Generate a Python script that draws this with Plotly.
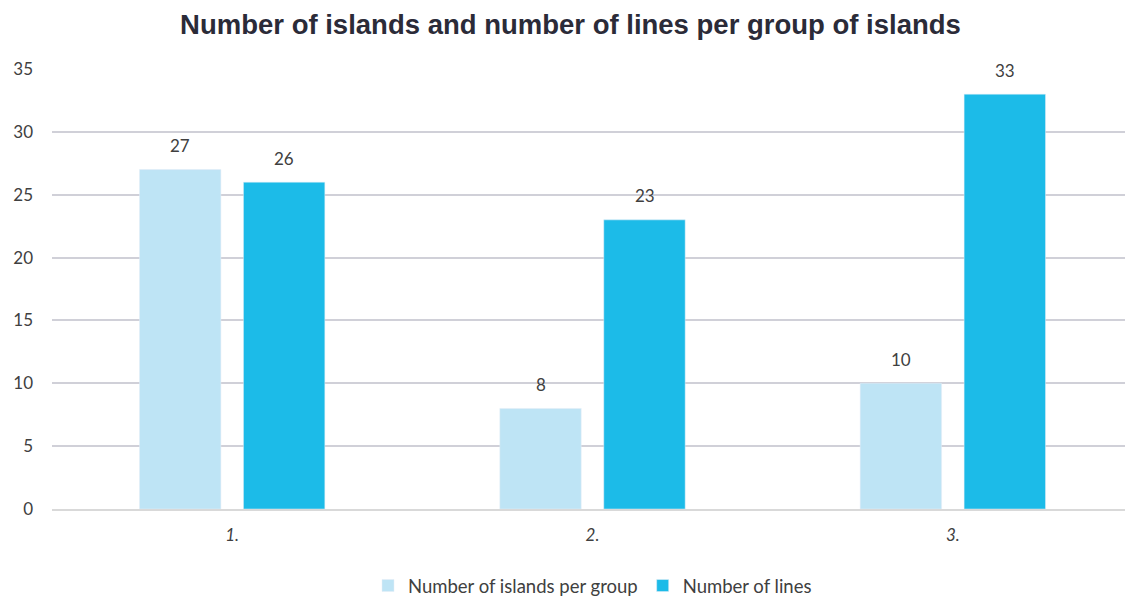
import plotly.graph_objects as go

categories = ["1.", "2.", "3."]
islands = [27, 8, 10]
lines = [26, 23, 33]
series_names = ["Number of islands per group", "Number of lines"]

FONT = "Lato, 'Open Sans', sans-serif"
TXT = "#404040"
COLORS = ["#BEE4F5", "#1CBBE8"]

fig = go.Figure()
for name, vals, col in zip(series_names, [islands, lines], COLORS):
    fig.add_trace(go.Bar(x=categories, y=vals, name=name, marker_color=col))

# data labels placed above bars (x given as category index)
for vals, xs in [(islands, -52), (lines, 52)]:
    for i, v in enumerate(vals):
        fig.add_annotation(x=i, y=v, xref="x", yref="y", text=str(v), showarrow=False,
                           xshift=xs, yshift=24,
                           font=dict(size=17, color=TXT, family=FONT))

fig.update_layout(
    width=1125, height=599,
    margin=dict(l=44, r=0, t=61, b=98),
    paper_bgcolor="white", plot_bgcolor="white",
    title=dict(text="<b>Number of islands and number of lines per group of islands</b>",
               x=0.5, xanchor="center", y=1 - 16.5 / 599, yanchor="middle",
               font=dict(family="Arial", size=27.5, color="#2B2B38")),
    barmode="group", bargap=0.423, bargroupgap=0.217,
    font=dict(family=FONT, size=17, color=TXT),
    showlegend=True,
    legend=dict(orientation="h", x=0.5, xanchor="center", y=-0.175, yanchor="middle",
                font=dict(size=18.5, color=TXT, family=FONT), itemwidth=30,
                traceorder="normal"),
    xaxis=dict(showgrid=False, showline=True, linecolor="#D9D9D9", linewidth=2,
               tickfont=dict(size=17, color=TXT, family=FONT), ticks="",
               ticklabelstandoff=10,
               tickvals=categories, ticktext=[f"<i>{c}</i>" for c in categories]),
    yaxis=dict(range=[0, 35], dtick=5, showgrid=True, gridcolor="#D0D0D8", gridwidth=1.5,
               zeroline=False, tickfont=dict(size=17, color=TXT, family=FONT),
               ticklabelstandoff=18),
)

fig.write_html("out.html")
